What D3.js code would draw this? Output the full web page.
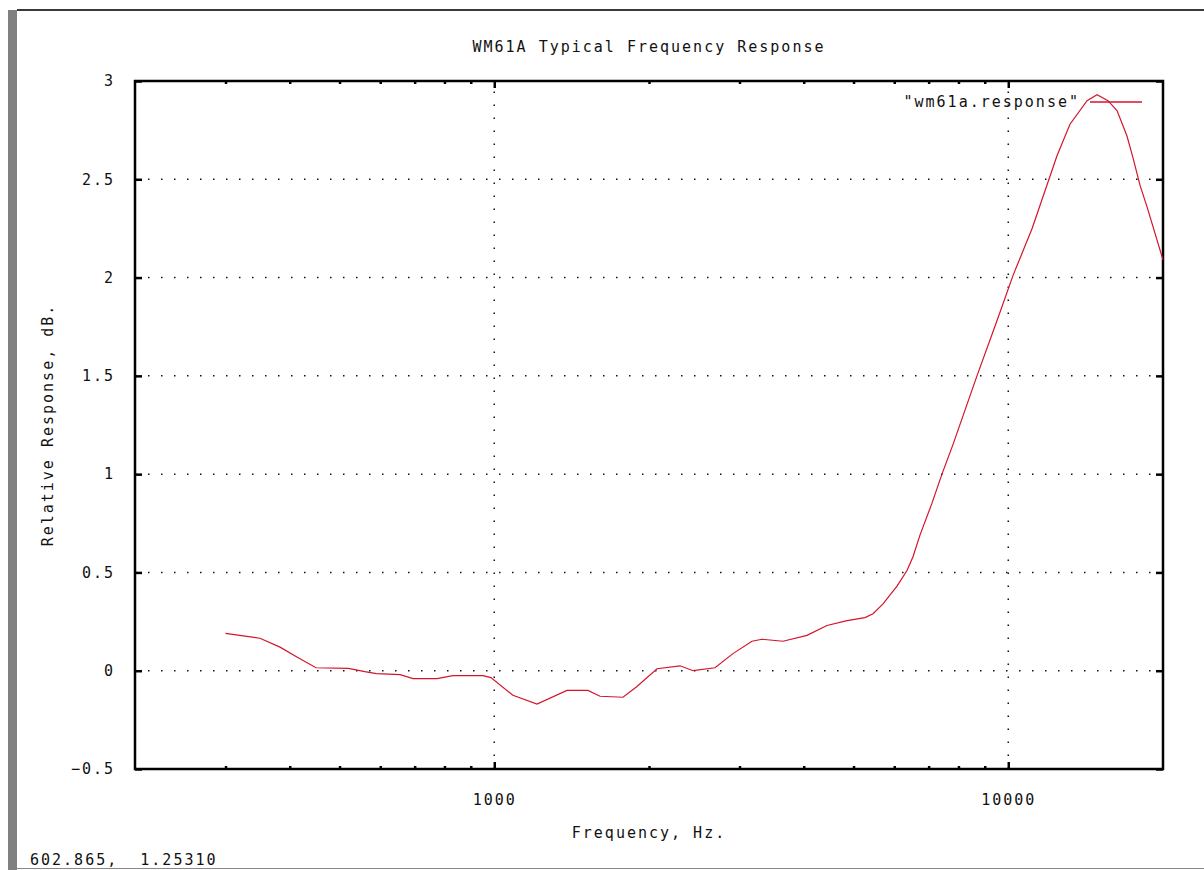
<!DOCTYPE html>
<html>
<head>
<meta charset="utf-8">
<script src="https://cdn.jsdelivr.net/npm/d3@7"></script>
<style>
  body { margin: 0; background: #fff; }
  text { font-family: 'DejaVu Sans Mono', monospace; font-size: 15px; letter-spacing: 2px; fill: #111; white-space: pre; }
</style>
</head>
<body>
<div id="chart"></div>
<script>
// Measured response points (frequency in Hz, relative response in dB)
const freqs = [300, 330, 350, 383, 413, 450, 520, 560, 590, 656, 695, 774, 831, 951, 985,
  1087, 1211, 1385, 1521, 1606, 1780, 1895, 2073, 2298, 2436, 2688, 2913, 3172, 3317, 3645,
  4059, 4439, 4857, 5263, 5456, 5706, 6075, 6353, 6526, 6733, 7100, 7430, 7805, 8692, 9506, 10213, 11127,
  12218, 12439, 13185, 14233, 14885, 15630, 16275, 17020, 17481, 18040, 18620, 20000]
const response = [0.19, 0.175, 0.165, 0.12, 0.07, 0.015, 0.012, -0.005, -0.015, -0.02, -0.04, -0.04, -0.025, -0.025, -0.035,
  -0.125, -0.17, -0.1, -0.1, -0.13, -0.135, -0.08, 0.01, 0.025, 0.0, 0.015, 0.087, 0.15, 0.16, 0.15,
  0.18, 0.23, 0.255, 0.27, 0.29, 0.34, 0.43, 0.51, 0.58, 0.69, 0.85, 1.0, 1.15, 1.5, 1.78, 2.01, 2.25,
  2.56, 2.62, 2.78, 2.9, 2.93, 2.9, 2.85, 2.72, 2.61, 2.47, 2.36, 2.09]

const xMajor = [1000, 10000]
const xMinor = [300, 400, 500, 600, 700, 800, 900, 2000, 3000, 4000, 5000, 6000, 7000, 8000, 9000]
const yTicks = [-0.5, 0, 0.5, 1, 1.5, 2, 2.5, 3]

const W = 1204
const H = 870
const margin = { top: 81, right: 41, bottom: 101, left: 135 }
const width = W - margin.left - margin.right
const height = H - margin.top - margin.bottom

const svg = d3.select('#chart').append('svg')
  .attr('width', W)
  .attr('height', H)

// Window frame (grey bar on the left, lines top and bottom)
svg.append('rect').attr('x', 8).attr('y', 10).attr('width', 9).attr('height', H - 10).attr('fill', '#808080')
svg.append('line').attr('x1', 17).attr('x2', W).attr('y1', 10).attr('y2', 10)
  .attr('stroke', '#3a3a3a').attr('stroke-width', 2)
svg.append('line').attr('x1', 17).attr('x2', W).attr('y1', 868.5).attr('y2', 868.5)
  .attr('stroke', '#888').attr('stroke-width', 1)

const xScale = d3.scaleLog().domain([200, 20000]).range([0, width])
const yScale = d3.scaleLinear().domain([-0.5, 3]).range([height, 0])

const g = svg.append('g').attr('transform', `translate(${margin.left},${margin.top})`)

// Dotted grid
g.selectAll('.gridy')
  .data(yTicks.filter(d => d > -0.5 && d < 3))
  .join('line')
  .attr('x1', 0).attr('x2', width)
  .attr('y1', d => yScale(d)).attr('y2', d => yScale(d))
  .attr('stroke', '#111').attr('stroke-width', 1.5).attr('stroke-dasharray', '1.5,11.5')
g.selectAll('.gridx')
  .data(xMajor)
  .join('line')
  .attr('x1', d => xScale(d)).attr('x2', d => xScale(d))
  .attr('y1', height).attr('y2', 0)
  .attr('stroke', '#111').attr('stroke-width', 1.5).attr('stroke-dasharray', '1.5,11.5')

// Axes with inward ticks
function styleAxis (sel) {
  sel.select('.domain').remove()
  sel.selectAll('.tick line').attr('stroke', '#000').attr('stroke-width', 2.5)
  sel.selectAll('.tick text').attr('fill', '#111').style('font-size', '15px')
}

g.append('g').attr('transform', `translate(0,${height})`)
  .call(d3.axisBottom(xScale).tickValues(xMajor).tickSizeInner(-7).tickPadding(25).tickFormat(d3.format('d')))
  .call(styleAxis)
g.append('g').attr('transform', `translate(0,${height})`)
  .call(d3.axisBottom(xScale).tickValues(xMinor).tickSizeInner(-3).tickFormat(''))
  .call(styleAxis)
g.append('g')
  .call(d3.axisTop(xScale).tickValues(xMajor).tickSizeInner(-7).tickFormat(''))
  .call(styleAxis)
g.append('g')
  .call(d3.axisTop(xScale).tickValues(xMinor).tickSizeInner(-3).tickFormat(''))
  .call(styleAxis)
g.append('g')
  .call(d3.axisLeft(yScale).tickValues(yTicks).tickSizeInner(-7).tickPadding(20).tickFormat(d3.format('')))
  .call(styleAxis)
g.append('g').attr('transform', `translate(${width},0)`)
  .call(d3.axisRight(yScale).tickValues(yTicks).tickSizeInner(-7).tickFormat(''))
  .call(styleAxis)

// Plot border
g.append('rect')
  .attr('width', width).attr('height', height)
  .attr('fill', 'none').attr('stroke', '#000').attr('stroke-width', 2.5)

// Response curve
const points = freqs.map((f, i) => [f, response[i]])
const line = d3.line().x(d => xScale(d[0])).y(d => yScale(d[1]))
g.append('path')
  .datum(points)
  .attr('d', line)
  .attr('fill', 'none')
  .attr('stroke', '#d4142c')
  .attr('stroke-width', 1.2)

// Legend
g.append('text')
  .attr('x', 945).attr('y', 21).attr('dy', '0.35em')
  .attr('text-anchor', 'end')
  .text('"wm61a.response"')
g.append('line')
  .attr('x1', 955).attr('x2', 1007).attr('y1', 21).attr('y2', 21)
  .attr('stroke', '#d4142c').attr('stroke-width', 1.5)

// Titles
svg.append('text')
  .attr('x', margin.left + width / 2).attr('y', 52)
  .attr('text-anchor', 'middle')
  .text('WM61A Typical Frequency Response')
svg.append('text')
  .attr('x', margin.left + width / 2).attr('y', 838)
  .attr('text-anchor', 'middle')
  .text('Frequency, Hz.')
svg.append('text')
  .attr('transform', `translate(53,${margin.top + height / 2}) rotate(-90)`)
  .attr('text-anchor', 'middle')
  .text('Relative Response, dB.')

// Mouse position readout
svg.append('text')
  .attr('x', 30).attr('y', 865)
  .text('602.865,  1.25310')
</script>
</body>
</html>
